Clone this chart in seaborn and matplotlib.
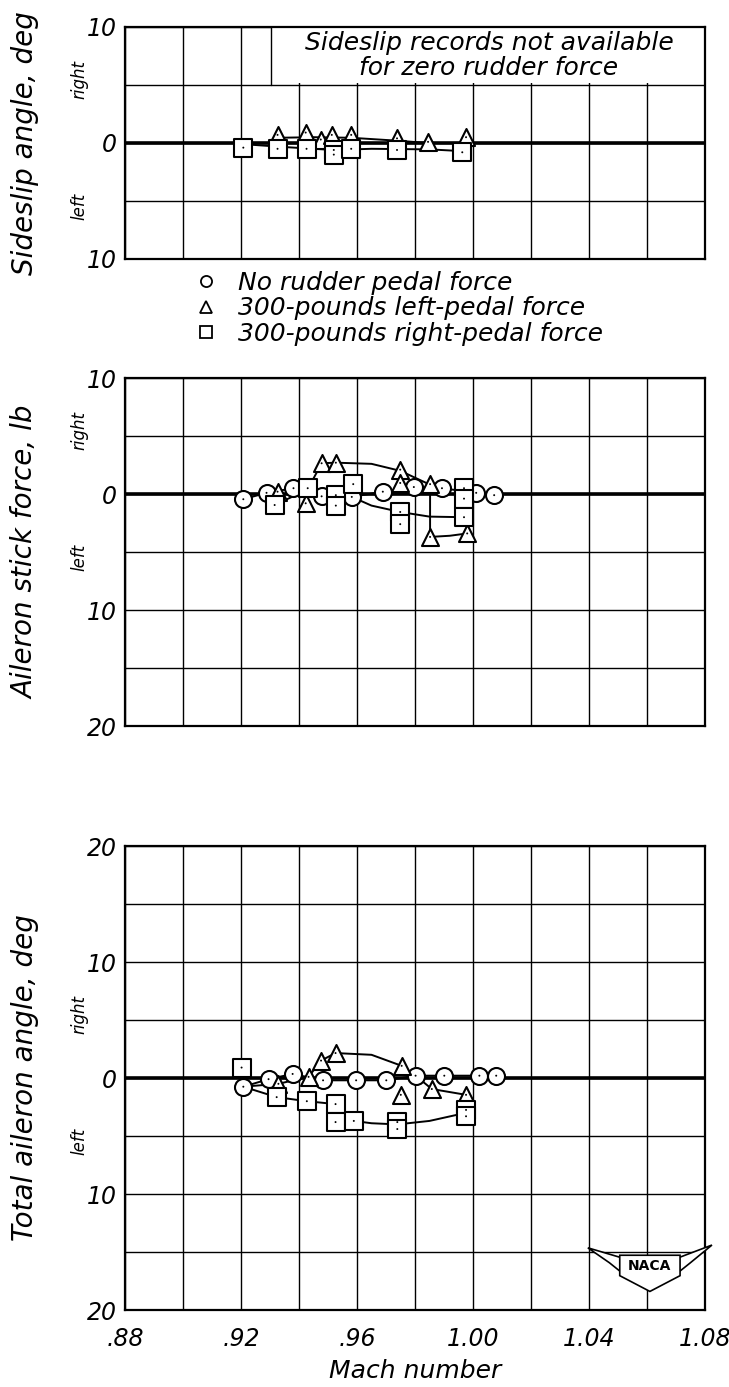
import numpy as np
import pandas as pd
import matplotlib
matplotlib.use("Agg")
import matplotlib.pyplot as plt
import matplotlib.transforms as mtransforms
from matplotlib.lines import Line2D
from matplotlib.patches import Polygon, Rectangle
import seaborn as sns

# ---------------- data ----------------
# Sideslip angle, deg (right positive)
ss_tri_x = [0.9326, 0.9423, 0.9475, 0.9513, 0.9580, 0.9738, 0.9845, 0.9976]
ss_tri_y = [0.7, 0.9, 0.3, 0.7, 0.7, 0.4, 0.1, 0.5]
ss_sq_x = [0.9208, 0.9326, 0.9426, 0.9520, 0.9520, 0.9580, 0.9738, 0.9963]
ss_sq_y = [-0.4, -0.5, -0.5, -0.6, -1.0, -0.5, -0.6, -0.8]
ss_tri_fair_x = [0.9326, 0.9450, 0.9580, 0.9738, 0.9845, 0.9976]
ss_tri_fair_y = [0.45, 0.5, 0.45, 0.2, 0.0, 0.0]
ss_sq_fair_x = [0.9208, 0.9350, 0.9520, 0.9650, 0.9850, 0.9963]
ss_sq_fair_y = [-0.1, -0.35, -0.6, -0.5, -0.55, -0.7]

# Aileron stick force, lb (right positive)
sf_circ_x = [0.9208, 0.9288, 0.9381, 0.9478, 0.9582, 0.9689, 0.9796, 0.9893, 1.0011, 1.0073]
sf_circ_y = [-0.45, 0.1, 0.5, -0.2, -0.25, 0.2, 0.6, 0.5, 0.1, -0.1]
sf_tri_x = [0.9326, 0.9423, 0.9478, 0.9527, 0.9749, 0.9749, 0.9852, 0.9852, 0.9980]
sf_tri_y = [0.2, -0.8, 2.65, 2.7, 2.1, 0.95, 0.85, -3.7, -3.4]
sf_sq_x = [0.9316, 0.9430, 0.9527, 0.9527, 0.9587, 0.9749, 0.9749, 0.9969, 0.9969, 0.9969]
sf_sq_y = [-0.95, 0.5, -0.1, -1.0, 0.85, -1.55, -2.6, 0.5, -0.4, -2.0]
sf_tri_fair_x = [0.9430, 0.9478, 0.9527, 0.9650, 0.9749, 0.9852, 0.9852, 0.9920, 0.9980]
sf_tri_fair_y = [0.4, 2.65, 2.7, 2.6, 2.0, 0.8, -3.7, -3.6, -3.4]
sf_sq_fair_x = [0.9316, 0.9380, 0.9430, 0.9527, 0.9587, 0.9650, 0.9749, 0.9850, 0.9969]
sf_sq_fair_y = [-0.95, -0.2, 0.3, -0.1, -0.3, -1.0, -1.55, -1.95, -2.0]

# Total aileron angle, deg (right positive)
ta_circ_x = [0.9208, 0.9295, 0.9378, 0.9483, 0.9597, 0.9701, 0.9802, 0.9901, 1.0022, 1.0080]
ta_circ_y = [-0.75, -0.1, 0.35, -0.2, -0.2, -0.2, 0.2, 0.2, 0.2, 0.2]
ta_tri_x = [0.9329, 0.9433, 0.9476, 0.9526, 0.9754, 0.9751, 0.9858, 0.9976]
ta_tri_y = [-0.5, 0.1, 1.5, 2.15, 1.05, -1.45, -0.95, -1.45]
ta_sq_x = [0.9202, 0.9323, 0.9427, 0.9526, 0.9526, 0.9589, 0.9739, 0.9739, 0.9976, 0.9976]
ta_sq_y = [0.9, -1.65, -2.0, -2.25, -3.8, -3.7, -3.8, -4.4, -2.75, -3.3]
ta_tri_fair_x = [0.9208, 0.9329, 0.9433, 0.9476, 0.9526, 0.9650, 0.9754, 0.9802]
ta_tri_fair_y = [-0.75, -0.5, 0.1, 1.5, 2.15, 2.0, 1.05, 0.2]
ta_tri2_fair_x = [0.9802, 0.9858, 0.9976]
ta_tri2_fair_y = [0.2, -0.95, -1.45]
ta_sq_fair_x = [0.9208, 0.9323, 0.9427, 0.9526, 0.9526, 0.9589, 0.9650, 0.9739, 0.9850, 0.9976]
ta_sq_fair_y = [-0.75, -1.65, -2.0, -2.25, -3.8, -3.7, -3.9, -4.0, -3.7, -3.0]

legend_labels = ["No rudder pedal force",
                 "300-pounds left-pedal force",
                 "300-pounds right-pedal force"]
x_tick_vals = [0.88, 0.92, 0.96, 1.00, 1.04, 1.08]
x_tick_text = [".88", ".92", ".96", "1.00", "1.04", "1.08"]

# ---------------- style ----------------
sns.set_theme(style="white")
plt.rcParams['font.family'] = ['DejaVu Sans']
plt.rcParams['font.style'] = 'italic'
for k in ['text.color', 'axes.labelcolor', 'xtick.color', 'ytick.color',
          'axes.edgecolor']:
    plt.rcParams[k] = 'black'
plt.rcParams['axes.linewidth'] = 1.6

FS = 17
fig = plt.figure(figsize=(7.29, 13.87), dpi=100)
L, W = 125 / 729, 580 / 729
ax1 = fig.add_axes([L, 1 - 259 / 1387, W, 232 / 1387])
ax2 = fig.add_axes([L, 1 - 726 / 1387, W, 348 / 1387])
ax3 = fig.add_axes([L, 1 - 1310 / 1387, W, 464 / 1387])

MS = 150


def fair(ax, xs, ys):
    d = pd.DataFrame({"x": xs, "y": ys})
    sns.lineplot(data=d, x="x", y="y", ax=ax, sort=False, estimator=None,
                 color="black", lw=1.4, zorder=2)


def pts(ax, xs, ys, marker):
    d = pd.DataFrame({"x": xs, "y": ys})
    sns.scatterplot(data=d, x="x", y="y", ax=ax, marker=marker, s=MS,
                    color="white", edgecolor="black", linewidth=1.5, zorder=3)
    sns.scatterplot(data=d, x="x", y="y", ax=ax, marker="o", s=2,
                    color="black", edgecolor="none", zorder=4)


def setup(ax, ylo, yhi, xlabels):
    ax.set_xlim(0.88, 1.08)
    ax.set_ylim(ylo, yhi)
    xt = np.round(np.arange(0.88, 1.0801, 0.02), 2)
    ax.set_xticks(xt)
    if xlabels:
        ax.set_xticklabels([x_tick_text[x_tick_vals.index(v)] if v in x_tick_vals else ""
                            for v in xt], fontsize=FS)
    else:
        ax.set_xticklabels([""] * len(xt))
    yt = np.arange(ylo, yhi + 0.1, 5)
    ax.set_yticks(yt)
    ax.set_yticklabels([str(abs(int(v))) if v % 10 == 0 else "" for v in yt], fontsize=FS)
    ax.tick_params(axis="y", length=0, pad=6)
    ax.tick_params(axis="x", length=0, pad=12)
    ax.grid(True, color="black", lw=1.0)
    ax.set_axisbelow(True)
    ax.axhline(0, color="black", lw=2.6, zorder=1.5)
    for s in ax.spines.values():
        s.set_visible(True)
        s.set_color("black")
        s.set_linewidth(1.6)
    tr = mtransforms.blended_transform_factory(ax.transAxes, ax.transData)
    ax.text(-0.078, 5.5, "right", transform=tr, rotation=90, ha="center",
            va="center", fontsize=12)
    ax.text(-0.078, -5.5, "left", transform=tr, rotation=90, ha="center",
            va="center", fontsize=12)


def finish(ax, ylabel):
    ax.set_xlabel("")
    ax.set_ylabel(ylabel, fontsize=FS + 3)
    ax.yaxis.set_label_coords(-0.148, 0.5)


# --- top: sideslip
setup(ax1, -10, 10, False)
fair(ax1, ss_tri_fair_x, ss_tri_fair_y)
fair(ax1, ss_sq_fair_x, ss_sq_fair_y)
pts(ax1, ss_tri_x, ss_tri_y, "^")
pts(ax1, ss_sq_x, ss_sq_y, "s")
ax1.add_patch(Rectangle((0.9305, 5.2), 0.1495, 4.75, facecolor="white",
                        edgecolor="none", zorder=1.2))
ax1.plot([0.9305, 0.9305], [5, 10], color="black", lw=1.0, zorder=1.3)
ax1.text(1.0055, 8.6, "Sideslip records not available", ha="center",
         va="center", fontsize=FS + 1, zorder=5)
ax1.text(1.0055, 6.5, "for zero rudder force", ha="center", va="center",
         fontsize=FS + 1, zorder=5)
finish(ax1, "Sideslip angle, deg")

# --- middle: stick force
setup(ax2, -20, 10, False)
fair(ax2, sf_circ_x, sf_circ_y)
fair(ax2, sf_tri_fair_x, sf_tri_fair_y)
fair(ax2, sf_sq_fair_x, sf_sq_fair_y)
pts(ax2, sf_circ_x, sf_circ_y, "o")
pts(ax2, sf_tri_x, sf_tri_y, "^")
pts(ax2, sf_sq_x, sf_sq_y, "s")
finish(ax2, "Aileron stick force, lb")

# --- bottom: total aileron angle
setup(ax3, -20, 20, True)
fair(ax3, ta_circ_x, ta_circ_y)
fair(ax3, ta_tri_fair_x, ta_tri_fair_y)
fair(ax3, ta_tri2_fair_x, ta_tri2_fair_y)
fair(ax3, ta_sq_fair_x, ta_sq_fair_y)
pts(ax3, ta_circ_x, ta_circ_y, "o")
pts(ax3, ta_tri_x, ta_tri_y, "^")
pts(ax3, ta_sq_x, ta_sq_y, "s")
finish(ax3, "Total aileron angle, deg")
ax3.set_xlabel("Mach number", fontsize=FS + 1, labelpad=6)

# NACA emblem (decoration)
emb = dict(transform=ax3.transAxes, facecolor="white", edgecolor="black",
           lw=1.2, zorder=6, clip_on=False)
ax3.add_patch(Polygon([(0.798, 0.134), (0.855, 0.113), (0.855, 0.082),
                       (0.835, 0.102)], closed=True, **emb))
ax3.add_patch(Polygon([(1.012, 0.140), (0.955, 0.113), (0.955, 0.082),
                       (0.975, 0.102)], closed=True, **emb))
ax3.add_patch(Polygon([(0.853, 0.118), (0.957, 0.118), (0.957, 0.074),
                       (0.905, 0.040), (0.853, 0.074)], closed=True, **emb))
ax3.text(0.905, 0.094, "NACA", transform=ax3.transAxes, ha="center",
         va="center", fontsize=10, fontstyle="normal", fontweight="bold",
         zorder=7)

# legend
handles = [Line2D([], [], marker=m, ls="none", mfc="white", mec="black",
                  mew=1.3, ms=8) for m in ["o", "^", "s"]]
fig.legend(handles, legend_labels, loc="upper left",
           bbox_to_anchor=(196 / 729, 1 - 271 / 1387), frameon=False,
           fontsize=FS + 1, labelspacing=0.05, handletextpad=0.9,
           borderpad=0, borderaxespad=0, handlelength=0.8)

fig.savefig("out.png", dpi=100)
